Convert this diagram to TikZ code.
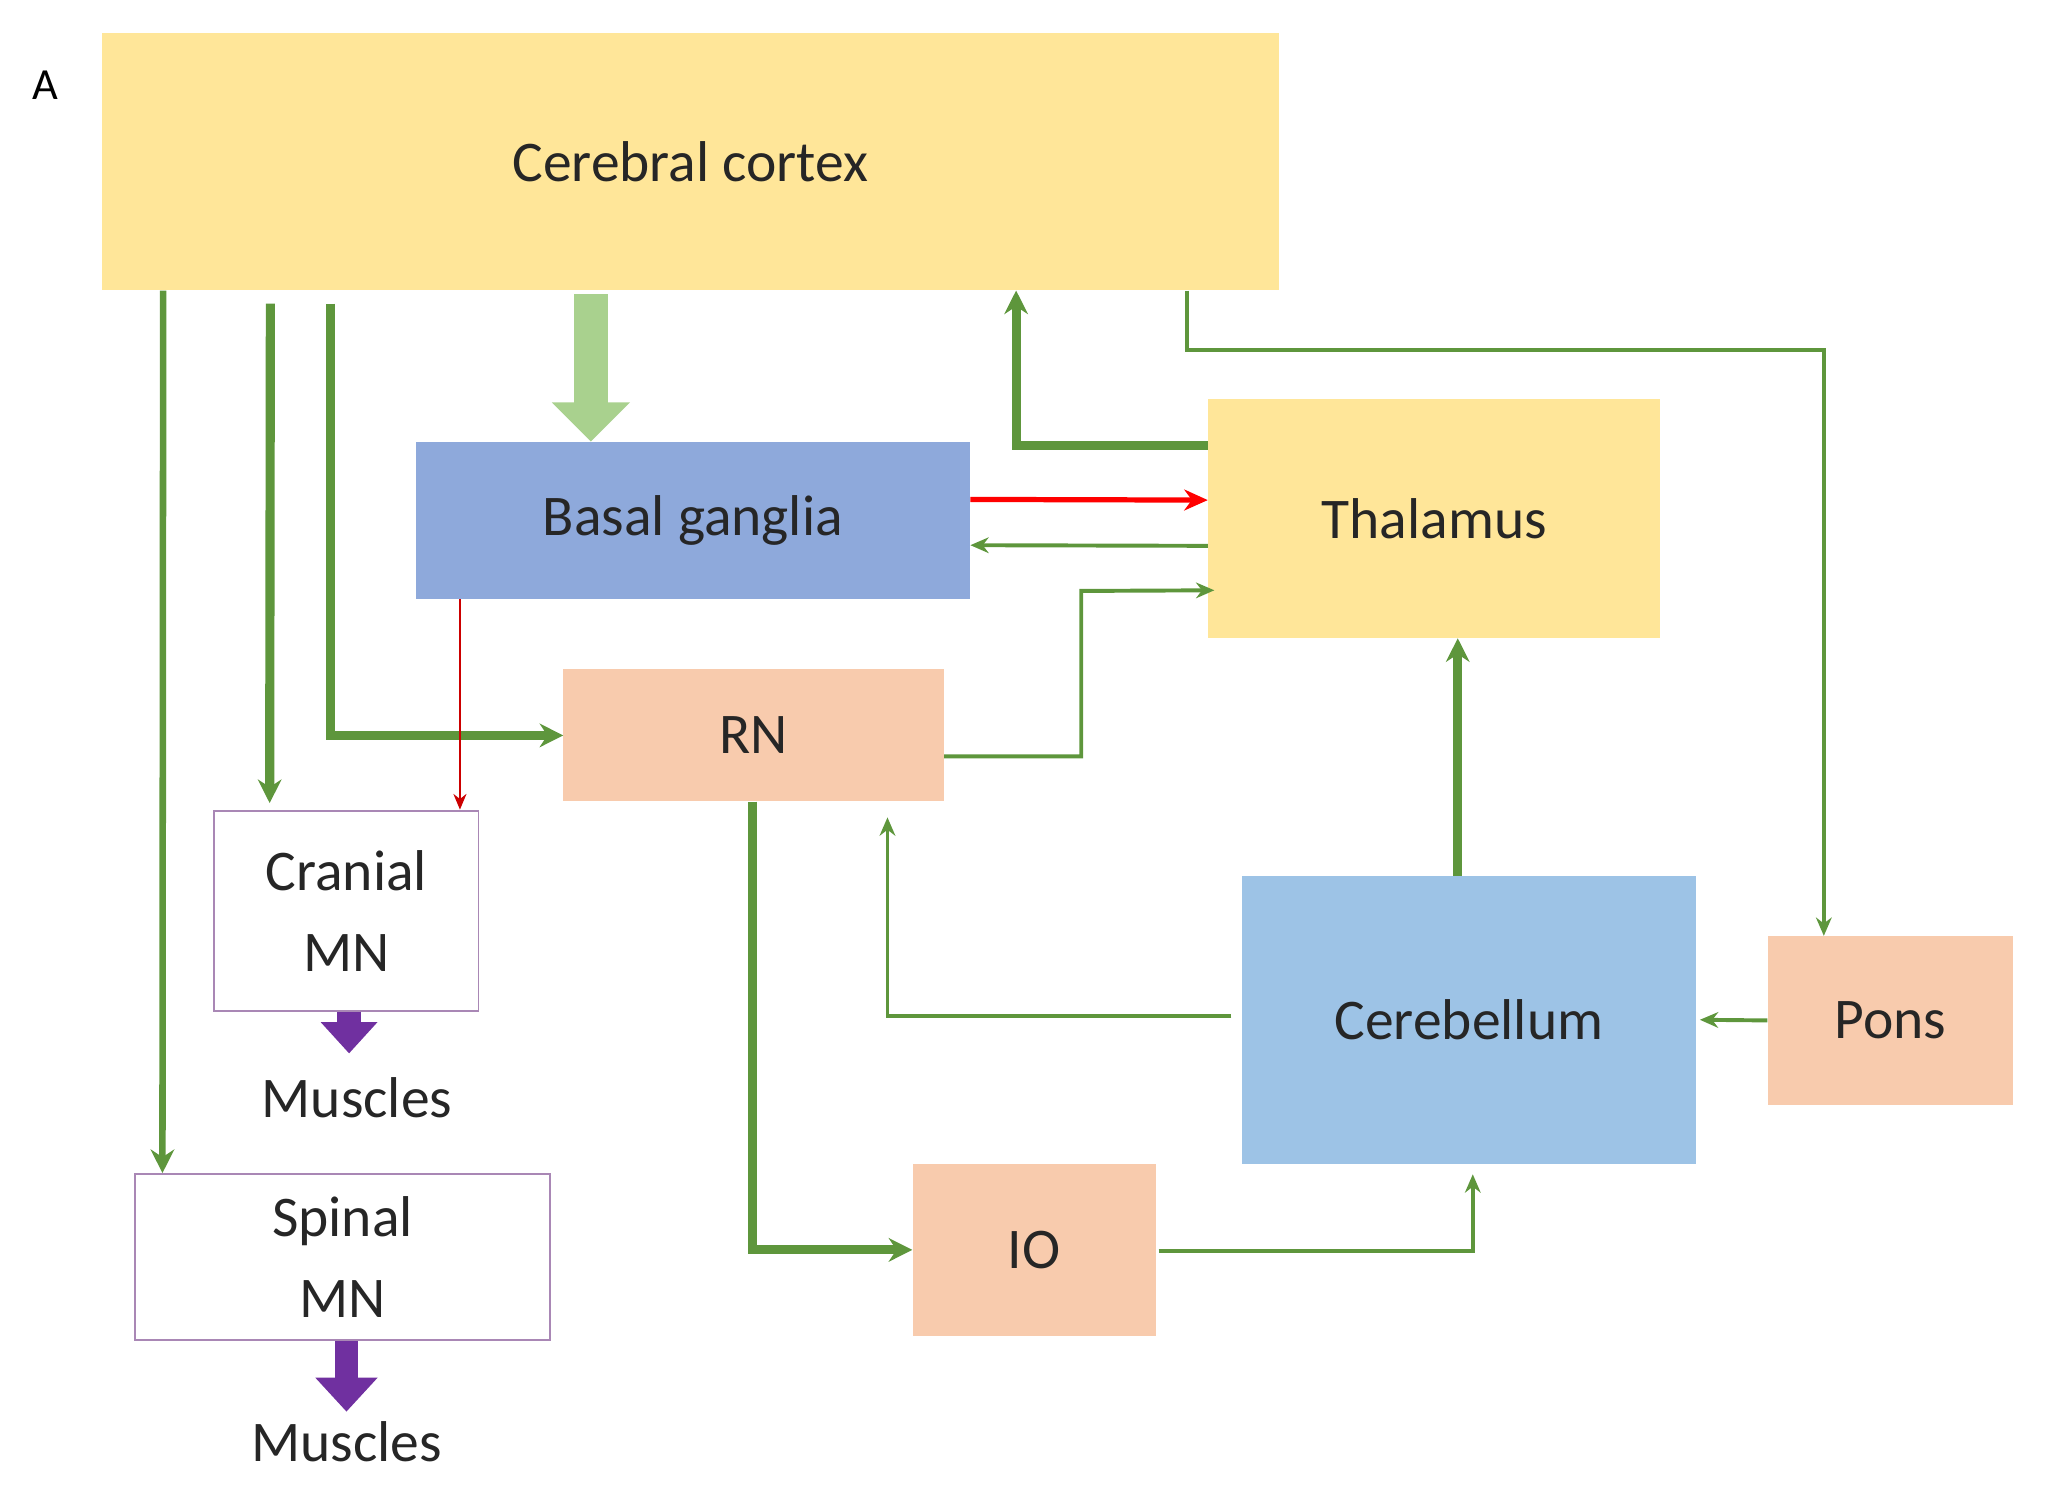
\documentclass[tikz,border=0pt]{standalone}
\usepackage{fontspec}
\setmainfont{Carlito}
\usetikzlibrary{arrows.meta,calc}
\definecolor{yel}{HTML}{FFE699}
\definecolor{bgb}{HTML}{8EA9DB}
\definecolor{peach}{HTML}{F8CBAD}
\definecolor{cblue}{HTML}{9DC3E6}
\definecolor{gr}{HTML}{5E963C}
\definecolor{lgr}{HTML}{A9D18E}
\definecolor{pur}{HTML}{7030A0}
\definecolor{mnb}{HTML}{A987B5}
\tikzset{
 box/.style={draw=none,inner sep=0pt,font=\fontsize{44}{52}\selectfont,text=black!85},
 mn/.style={box,fill=white,draw=mnb,line width=1.5pt,align=center,font=\fontsize{44}{62}\selectfont},
 thin/.style={gr,line width=3pt,-{Stealth[length=14pt,width=12pt]}},
 thick/.style={gr,line width=7pt,-{Stealth[length=18pt,width=18pt]}},
 fat/.style={line width=26pt,-{Triangle[length=30pt,width=58pt]}},
}
\begin{document}
\begin{tikzpicture}[x=1pt,y=-1pt]
\useasboundingbox (0,0) rectangle (1568,1143);
\node[font=\fontsize{34}{40}\selectfont] (A) at (35,65) {A};
\node[box,fill=yel,minimum width=900pt,minimum height=197pt] (cc) at (528,123.5) {Cerebral cortex};
\node[box,fill=bgb,minimum width=424pt,minimum height=120pt] (bg) at (530,398) {Basal ganglia};
\node[box,fill=yel,minimum width=346pt,minimum height=183pt] (th) at (1097,396.5) {Thalamus};
\node[box,fill=peach,minimum width=291pt,minimum height=101pt] (rn) at (576.5,562.5) {RN};
\node[mn,minimum width=202pt,minimum height=153pt] (cr) at (265,696.5) {Cranial\\MN};
\node[box] (m1) at (273,840) {Muscles};
\node[mn,minimum width=318pt,minimum height=127pt] (sp) at (262,961.5) {Spinal\\MN};
\node[box] (m2) at (265,1103) {Muscles};
\node[box,fill=peach,minimum width=186pt,minimum height=132pt] (io) at (791,956) {IO};
\node[box,fill=cblue,minimum width=347pt,minimum height=220pt] (cb) at (1123.5,780) {Cerebellum};
\node[box,fill=peach,minimum width=188pt,minimum height=129pt] (po) at (1446,780.5) {Pons};

\coordinate (p1) at (1395,268);
\draw[thick,line width=5pt] ([xshift=47pt]cc.south west) -- ([xshift=22pt]sp.north west);
\draw[thick] ([xshift=129pt,yshift=-10pt]cc.south west) -- ([xshift=43pt,yshift=5pt]cr.north west);
\draw[thick] ([xshift=175pt,yshift=-10pt]cc.south west) |- (rn.west);
\draw[fat,lgr] (452,225) -- (bg.north -| 452,0);
\draw[thick] ([yshift=56pt]th.west) -| ([xshift=-201pt]cc.south east);
\draw[thin] ([xshift=-70pt]cc.south east) |- (p1) -- (po.north -| p1);
\draw[red,line width=4pt,-{Stealth[length=18pt,width=16pt]}] ([yshift=16pt]bg.east) -- ([yshift=14pt]th.west);
\draw[thin] ([yshift=-21pt]th.west) -- ([yshift=-19pt]bg.east);
\draw[thin] ([yshift=-16pt]rn.east) -| (827,452) -- ([xshift=5pt,yshift=-55pt]th.west);
\draw[thick] (cb.north -| 1115,0) -- (th.south -| 1115,0);
\draw[thin] ([xshift=-8pt,yshift=3pt]cb.west) -| ([xshift=248pt,yshift=-12pt]rn.south west);
\draw[thin] (po.west) -- ([xshift=3pt]cb.east);
\draw[thick] ([xshift=145pt]rn.south west) |- (io.west);
\draw[thin] ([xshift=2pt,yshift=-1pt]io.east) -| ([xshift=3pt,yshift=-8pt]cb.south);
\draw[red!80!black,line width=1.5pt,-{Stealth[length=12pt,width=10pt]}] ([xshift=34pt]bg.south west) -- ([xshift=34pt]bg.south west |- cr.north);
\draw[fat,pur,line width=18pt,-{Triangle[length=24pt,width=42pt]}] ([xshift=2pt]cr.south) -- ([xshift=2pt,yshift=-32pt]cr.south);
\draw[fat,pur,line width=18pt,-{Triangle[length=26pt,width=46pt]}] ([xshift=3pt]sp.south) -- ([xshift=3pt,yshift=-54pt]sp.south);
\end{tikzpicture}
\end{document}
